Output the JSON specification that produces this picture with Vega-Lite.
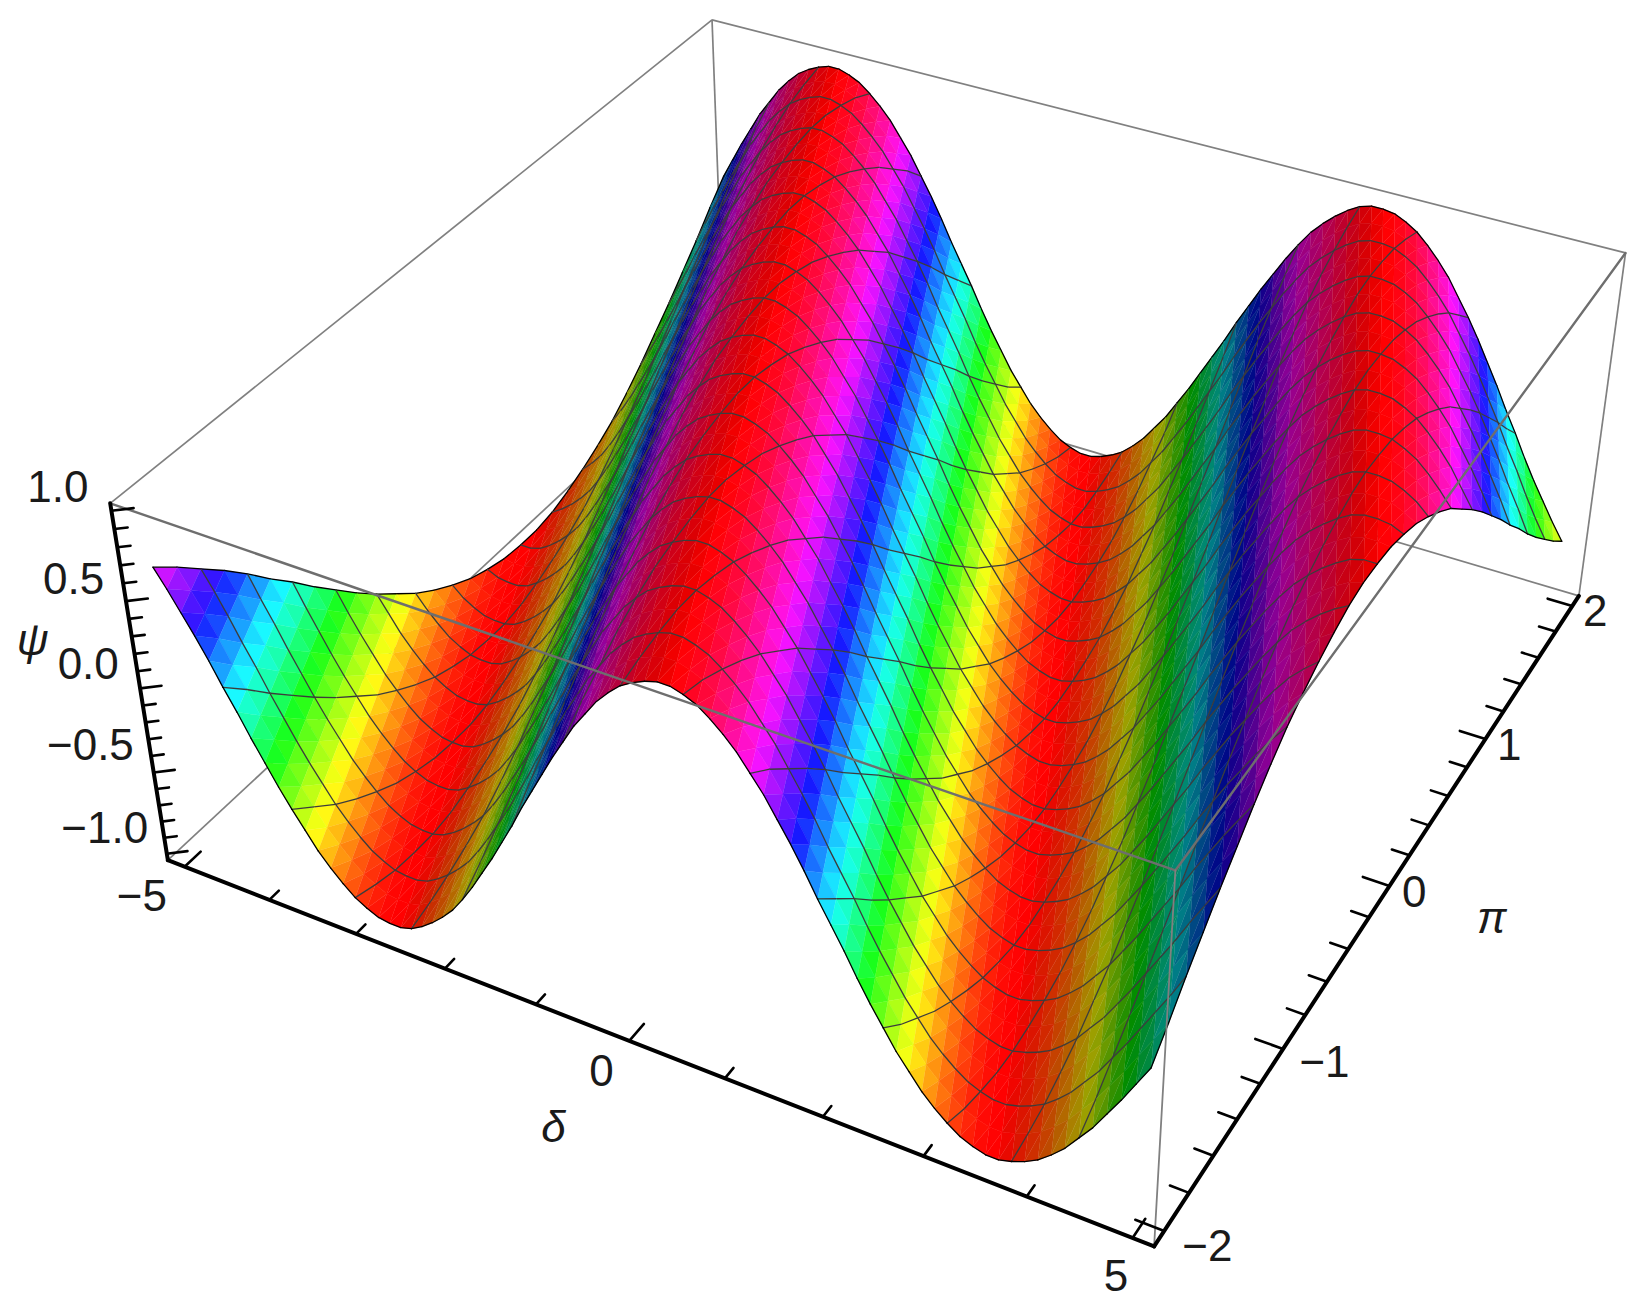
{"$schema":"https://vega.github.io/schema/vega-lite/v6.json","width":1642,"height":1300,"padding":0,"autosize":{"type":"none"},"background":"white","config":{"view":{"stroke":null}},"resolve":{"scale":{"strokeWidth":"independent","stroke":"independent"}},"encoding":{"x":{"field":"sx","type":"quantitative","scale":{"domain":[0,1565],"nice":false,"zero":false},"axis":null},"y":{"field":"sy","type":"quantitative","scale":{"domain":[1239.3,0],"nice":false,"zero":false},"axis":null}},"layer":[
{"data":{"name":"box","values":[
{"k":"bk","d":-5.2,"p":-2.08,"z":1.04,"d2":-5.2,"p2":2.08,"z2":1.04},
{"k":"bk","d":-5.2,"p":2.08,"z":1.04,"d2":5.2,"p2":2.08,"z2":1.04},
{"k":"bk","d":5.2,"p":2.08,"z":1.04,"d2":5.2,"p2":2.08,"z2":-1.04},
{"k":"bk","d":-5.2,"p":2.08,"z":1.04,"d2":-5.2,"p2":2.08,"z2":-1.04},
{"k":"bk","d":-5.2,"p":-2.08,"z":-1.04,"d2":-5.2,"p2":2.08,"z2":-1.04},
{"k":"bk","d":-5.2,"p":2.08,"z":-1.04,"d2":5.2,"p2":2.08,"z2":-1.04}]},
"transform":[{"calculate":"(datum.d+5.2)/10.4","as":"u"},{"calculate":"(datum.p+2.08)/4.16","as":"v"},{"calculate":"(datum.z+1.04)/2.08","as":"w"},{"calculate":"1-0.1209*datum.u+0.2137*datum.v-0.0717*datum.w","as":"den"},{"calculate":"(160+807*datum.u+677.5*datum.v-62.5*datum.w)/datum.den","as":"sx"},{"calculate":"(820+224.6*datum.u-423.8*datum.v-374.6*datum.w)/datum.den","as":"sy"},{"calculate":"(datum.d2+5.2)/10.4","as":"u2"},{"calculate":"(datum.p2+2.08)/4.16","as":"v2"},{"calculate":"(datum.z2+1.04)/2.08","as":"w2"},{"calculate":"1-0.1209*datum.u2+0.2137*datum.v2-0.0717*datum.w2","as":"den2"},{"calculate":"(160+807*datum.u2+677.5*datum.v2-62.5*datum.w2)/datum.den2","as":"sx2"},{"calculate":"(820+224.6*datum.u2-423.8*datum.v2-374.6*datum.w2)/datum.den2","as":"sy2"}],
"mark":{"type":"rule","stroke":"#808080","strokeWidth":1.7},"encoding":{"x2":{"field":"sx2"},"y2":{"field":"sy2"}}},
{"data":{"name":"surface","values":[
{"j":32,"p":2,"z":[14,26,38,49,60,69,78,85,91,95,98,100,100,98,95,90,84,77,68,59,48,37,25,12,0,-12,-25,-37,-48,-59,-68,-77,-84,-90,-95,-98,-100,-100,-98,-95,-91,-85,-78,-69,-60,-49,-38,-26,-14,-2,11,23,35,46,57,67,76,83,89,94,98,100,100,99,96,92,86,79,71,61,51,40,28,16,3,-9,-22,-34,-45,-56,-66]},
{"j":31,"p":1.875,"z":[2,14,26,38,49,60,69,78,85,91,95,98,100,100,98,95,90,84,77,68,59,48,37,25,12,0,-12,-25,-37,-48,-59,-68,-77,-84,-90,-95,-98,-100,-100,-98,-95,-91,-85,-78,-69,-60,-49,-38,-26,-14,-2,11,23,35,46,57,67,76,83,89,94,98,100,100,99,96,92,86,79,71,61,51,40,28,16,3,-9,-22,-34,-45,-56]},
{"j":30,"p":1.75,"z":[-11,2,14,26,38,49,60,69,78,85,91,95,98,100,100,98,95,90,84,77,68,59,48,37,25,12,0,-12,-25,-37,-48,-59,-68,-77,-84,-90,-95,-98,-100,-100,-98,-95,-91,-85,-78,-69,-60,-49,-38,-26,-14,-2,11,23,35,46,57,67,76,83,89,94,98,100,100,99,96,92,86,79,71,61,51,40,28,16,3,-9,-22,-34,-45]},
{"j":29,"p":1.625,"z":[-23,-11,2,14,26,38,49,60,69,78,85,91,95,98,100,100,98,95,90,84,77,68,59,48,37,25,12,0,-12,-25,-37,-48,-59,-68,-77,-84,-90,-95,-98,-100,-100,-98,-95,-91,-85,-78,-69,-60,-49,-38,-26,-14,-2,11,23,35,46,57,67,76,83,89,94,98,100,100,99,96,92,86,79,71,61,51,40,28,16,3,-9,-22,-34]},
{"j":28,"p":1.5,"z":[-35,-23,-11,2,14,26,38,49,60,69,78,85,91,95,98,100,100,98,95,90,84,77,68,59,48,37,25,12,0,-12,-25,-37,-48,-59,-68,-77,-84,-90,-95,-98,-100,-100,-98,-95,-91,-85,-78,-69,-60,-49,-38,-26,-14,-2,11,23,35,46,57,67,76,83,89,94,98,100,100,99,96,92,86,79,71,61,51,40,28,16,3,-9,-22]},
{"j":27,"p":1.375,"z":[-46,-35,-23,-11,2,14,26,38,49,60,69,78,85,91,95,98,100,100,98,95,90,84,77,68,59,48,37,25,12,0,-12,-25,-37,-48,-59,-68,-77,-84,-90,-95,-98,-100,-100,-98,-95,-91,-85,-78,-69,-60,-49,-38,-26,-14,-2,11,23,35,46,57,67,76,83,89,94,98,100,100,99,96,92,86,79,71,61,51,40,28,16,3,-9]},
{"j":26,"p":1.25,"z":[-57,-46,-35,-23,-11,2,14,26,38,49,60,69,78,85,91,95,98,100,100,98,95,90,84,77,68,59,48,37,25,12,0,-12,-25,-37,-48,-59,-68,-77,-84,-90,-95,-98,-100,-100,-98,-95,-91,-85,-78,-69,-60,-49,-38,-26,-14,-2,11,23,35,46,57,67,76,83,89,94,98,100,100,99,96,92,86,79,71,61,51,40,28,16,3]},
{"j":25,"p":1.125,"z":[-67,-57,-46,-35,-23,-11,2,14,26,38,49,60,69,78,85,91,95,98,100,100,98,95,90,84,77,68,59,48,37,25,12,0,-12,-25,-37,-48,-59,-68,-77,-84,-90,-95,-98,-100,-100,-98,-95,-91,-85,-78,-69,-60,-49,-38,-26,-14,-2,11,23,35,46,57,67,76,83,89,94,98,100,100,99,96,92,86,79,71,61,51,40,28,16]},
{"j":24,"p":1,"z":[-76,-67,-57,-46,-35,-23,-11,2,14,26,38,49,60,69,78,85,91,95,98,100,100,98,95,90,84,77,68,59,48,37,25,12,0,-12,-25,-37,-48,-59,-68,-77,-84,-90,-95,-98,-100,-100,-98,-95,-91,-85,-78,-69,-60,-49,-38,-26,-14,-2,11,23,35,46,57,67,76,83,89,94,98,100,100,99,96,92,86,79,71,61,51,40,28]},
{"j":23,"p":0.875,"z":[-83,-76,-67,-57,-46,-35,-23,-11,2,14,26,38,49,60,69,78,85,91,95,98,100,100,98,95,90,84,77,68,59,48,37,25,12,0,-12,-25,-37,-48,-59,-68,-77,-84,-90,-95,-98,-100,-100,-98,-95,-91,-85,-78,-69,-60,-49,-38,-26,-14,-2,11,23,35,46,57,67,76,83,89,94,98,100,100,99,96,92,86,79,71,61,51,40]},
{"j":22,"p":0.75,"z":[-89,-83,-76,-67,-57,-46,-35,-23,-11,2,14,26,38,49,60,69,78,85,91,95,98,100,100,98,95,90,84,77,68,59,48,37,25,12,0,-12,-25,-37,-48,-59,-68,-77,-84,-90,-95,-98,-100,-100,-98,-95,-91,-85,-78,-69,-60,-49,-38,-26,-14,-2,11,23,35,46,57,67,76,83,89,94,98,100,100,99,96,92,86,79,71,61,51]},
{"j":21,"p":0.625,"z":[-94,-89,-83,-76,-67,-57,-46,-35,-23,-11,2,14,26,38,49,60,69,78,85,91,95,98,100,100,98,95,90,84,77,68,59,48,37,25,12,0,-12,-25,-37,-48,-59,-68,-77,-84,-90,-95,-98,-100,-100,-98,-95,-91,-85,-78,-69,-60,-49,-38,-26,-14,-2,11,23,35,46,57,67,76,83,89,94,98,100,100,99,96,92,86,79,71,61]},
{"j":20,"p":0.5,"z":[-98,-94,-89,-83,-76,-67,-57,-46,-35,-23,-11,2,14,26,38,49,60,69,78,85,91,95,98,100,100,98,95,90,84,77,68,59,48,37,25,12,0,-12,-25,-37,-48,-59,-68,-77,-84,-90,-95,-98,-100,-100,-98,-95,-91,-85,-78,-69,-60,-49,-38,-26,-14,-2,11,23,35,46,57,67,76,83,89,94,98,100,100,99,96,92,86,79,71]},
{"j":19,"p":0.375,"z":[-100,-98,-94,-89,-83,-76,-67,-57,-46,-35,-23,-11,2,14,26,38,49,60,69,78,85,91,95,98,100,100,98,95,90,84,77,68,59,48,37,25,12,0,-12,-25,-37,-48,-59,-68,-77,-84,-90,-95,-98,-100,-100,-98,-95,-91,-85,-78,-69,-60,-49,-38,-26,-14,-2,11,23,35,46,57,67,76,83,89,94,98,100,100,99,96,92,86,79]},
{"j":18,"p":0.25,"z":[-100,-100,-98,-94,-89,-83,-76,-67,-57,-46,-35,-23,-11,2,14,26,38,49,60,69,78,85,91,95,98,100,100,98,95,90,84,77,68,59,48,37,25,12,0,-12,-25,-37,-48,-59,-68,-77,-84,-90,-95,-98,-100,-100,-98,-95,-91,-85,-78,-69,-60,-49,-38,-26,-14,-2,11,23,35,46,57,67,76,83,89,94,98,100,100,99,96,92,86]},
{"j":17,"p":0.125,"z":[-99,-100,-100,-98,-94,-89,-83,-76,-67,-57,-46,-35,-23,-11,2,14,26,38,49,60,69,78,85,91,95,98,100,100,98,95,90,84,77,68,59,48,37,25,12,0,-12,-25,-37,-48,-59,-68,-77,-84,-90,-95,-98,-100,-100,-98,-95,-91,-85,-78,-69,-60,-49,-38,-26,-14,-2,11,23,35,46,57,67,76,83,89,94,98,100,100,99,96,92]},
{"j":16,"p":0,"z":[-96,-99,-100,-100,-98,-94,-89,-83,-76,-67,-57,-46,-35,-23,-11,2,14,26,38,49,60,69,78,85,91,95,98,100,100,98,95,90,84,77,68,59,48,37,25,12,0,-12,-25,-37,-48,-59,-68,-77,-84,-90,-95,-98,-100,-100,-98,-95,-91,-85,-78,-69,-60,-49,-38,-26,-14,-2,11,23,35,46,57,67,76,83,89,94,98,100,100,99,96]},
{"j":15,"p":-0.125,"z":[-92,-96,-99,-100,-100,-98,-94,-89,-83,-76,-67,-57,-46,-35,-23,-11,2,14,26,38,49,60,69,78,85,91,95,98,100,100,98,95,90,84,77,68,59,48,37,25,12,0,-12,-25,-37,-48,-59,-68,-77,-84,-90,-95,-98,-100,-100,-98,-95,-91,-85,-78,-69,-60,-49,-38,-26,-14,-2,11,23,35,46,57,67,76,83,89,94,98,100,100,99]},
{"j":14,"p":-0.25,"z":[-86,-92,-96,-99,-100,-100,-98,-94,-89,-83,-76,-67,-57,-46,-35,-23,-11,2,14,26,38,49,60,69,78,85,91,95,98,100,100,98,95,90,84,77,68,59,48,37,25,12,0,-12,-25,-37,-48,-59,-68,-77,-84,-90,-95,-98,-100,-100,-98,-95,-91,-85,-78,-69,-60,-49,-38,-26,-14,-2,11,23,35,46,57,67,76,83,89,94,98,100,100]},
{"j":13,"p":-0.375,"z":[-79,-86,-92,-96,-99,-100,-100,-98,-94,-89,-83,-76,-67,-57,-46,-35,-23,-11,2,14,26,38,49,60,69,78,85,91,95,98,100,100,98,95,90,84,77,68,59,48,37,25,12,0,-12,-25,-37,-48,-59,-68,-77,-84,-90,-95,-98,-100,-100,-98,-95,-91,-85,-78,-69,-60,-49,-38,-26,-14,-2,11,23,35,46,57,67,76,83,89,94,98,100]},
{"j":12,"p":-0.5,"z":[-71,-79,-86,-92,-96,-99,-100,-100,-98,-94,-89,-83,-76,-67,-57,-46,-35,-23,-11,2,14,26,38,49,60,69,78,85,91,95,98,100,100,98,95,90,84,77,68,59,48,37,25,12,0,-12,-25,-37,-48,-59,-68,-77,-84,-90,-95,-98,-100,-100,-98,-95,-91,-85,-78,-69,-60,-49,-38,-26,-14,-2,11,23,35,46,57,67,76,83,89,94,98]},
{"j":11,"p":-0.625,"z":[-61,-71,-79,-86,-92,-96,-99,-100,-100,-98,-94,-89,-83,-76,-67,-57,-46,-35,-23,-11,2,14,26,38,49,60,69,78,85,91,95,98,100,100,98,95,90,84,77,68,59,48,37,25,12,0,-12,-25,-37,-48,-59,-68,-77,-84,-90,-95,-98,-100,-100,-98,-95,-91,-85,-78,-69,-60,-49,-38,-26,-14,-2,11,23,35,46,57,67,76,83,89,94]},
{"j":10,"p":-0.75,"z":[-51,-61,-71,-79,-86,-92,-96,-99,-100,-100,-98,-94,-89,-83,-76,-67,-57,-46,-35,-23,-11,2,14,26,38,49,60,69,78,85,91,95,98,100,100,98,95,90,84,77,68,59,48,37,25,12,0,-12,-25,-37,-48,-59,-68,-77,-84,-90,-95,-98,-100,-100,-98,-95,-91,-85,-78,-69,-60,-49,-38,-26,-14,-2,11,23,35,46,57,67,76,83,89]},
{"j":9,"p":-0.875,"z":[-40,-51,-61,-71,-79,-86,-92,-96,-99,-100,-100,-98,-94,-89,-83,-76,-67,-57,-46,-35,-23,-11,2,14,26,38,49,60,69,78,85,91,95,98,100,100,98,95,90,84,77,68,59,48,37,25,12,0,-12,-25,-37,-48,-59,-68,-77,-84,-90,-95,-98,-100,-100,-98,-95,-91,-85,-78,-69,-60,-49,-38,-26,-14,-2,11,23,35,46,57,67,76,83]},
{"j":8,"p":-1,"z":[-28,-40,-51,-61,-71,-79,-86,-92,-96,-99,-100,-100,-98,-94,-89,-83,-76,-67,-57,-46,-35,-23,-11,2,14,26,38,49,60,69,78,85,91,95,98,100,100,98,95,90,84,77,68,59,48,37,25,12,0,-12,-25,-37,-48,-59,-68,-77,-84,-90,-95,-98,-100,-100,-98,-95,-91,-85,-78,-69,-60,-49,-38,-26,-14,-2,11,23,35,46,57,67,76]},
{"j":7,"p":-1.125,"z":[-16,-28,-40,-51,-61,-71,-79,-86,-92,-96,-99,-100,-100,-98,-94,-89,-83,-76,-67,-57,-46,-35,-23,-11,2,14,26,38,49,60,69,78,85,91,95,98,100,100,98,95,90,84,77,68,59,48,37,25,12,0,-12,-25,-37,-48,-59,-68,-77,-84,-90,-95,-98,-100,-100,-98,-95,-91,-85,-78,-69,-60,-49,-38,-26,-14,-2,11,23,35,46,57,67]},
{"j":6,"p":-1.25,"z":[-3,-16,-28,-40,-51,-61,-71,-79,-86,-92,-96,-99,-100,-100,-98,-94,-89,-83,-76,-67,-57,-46,-35,-23,-11,2,14,26,38,49,60,69,78,85,91,95,98,100,100,98,95,90,84,77,68,59,48,37,25,12,0,-12,-25,-37,-48,-59,-68,-77,-84,-90,-95,-98,-100,-100,-98,-95,-91,-85,-78,-69,-60,-49,-38,-26,-14,-2,11,23,35,46,57]},
{"j":5,"p":-1.375,"z":[9,-3,-16,-28,-40,-51,-61,-71,-79,-86,-92,-96,-99,-100,-100,-98,-94,-89,-83,-76,-67,-57,-46,-35,-23,-11,2,14,26,38,49,60,69,78,85,91,95,98,100,100,98,95,90,84,77,68,59,48,37,25,12,0,-12,-25,-37,-48,-59,-68,-77,-84,-90,-95,-98,-100,-100,-98,-95,-91,-85,-78,-69,-60,-49,-38,-26,-14,-2,11,23,35,46]},
{"j":4,"p":-1.5,"z":[22,9,-3,-16,-28,-40,-51,-61,-71,-79,-86,-92,-96,-99,-100,-100,-98,-94,-89,-83,-76,-67,-57,-46,-35,-23,-11,2,14,26,38,49,60,69,78,85,91,95,98,100,100,98,95,90,84,77,68,59,48,37,25,12,0,-12,-25,-37,-48,-59,-68,-77,-84,-90,-95,-98,-100,-100,-98,-95,-91,-85,-78,-69,-60,-49,-38,-26,-14,-2,11,23,35]},
{"j":3,"p":-1.625,"z":[34,22,9,-3,-16,-28,-40,-51,-61,-71,-79,-86,-92,-96,-99,-100,-100,-98,-94,-89,-83,-76,-67,-57,-46,-35,-23,-11,2,14,26,38,49,60,69,78,85,91,95,98,100,100,98,95,90,84,77,68,59,48,37,25,12,0,-12,-25,-37,-48,-59,-68,-77,-84,-90,-95,-98,-100,-100,-98,-95,-91,-85,-78,-69,-60,-49,-38,-26,-14,-2,11,23]},
{"j":2,"p":-1.75,"z":[45,34,22,9,-3,-16,-28,-40,-51,-61,-71,-79,-86,-92,-96,-99,-100,-100,-98,-94,-89,-83,-76,-67,-57,-46,-35,-23,-11,2,14,26,38,49,60,69,78,85,91,95,98,100,100,98,95,90,84,77,68,59,48,37,25,12,0,-12,-25,-37,-48,-59,-68,-77,-84,-90,-95,-98,-100,-100,-98,-95,-91,-85,-78,-69,-60,-49,-38,-26,-14,-2,11]},
{"j":1,"p":-1.875,"z":[56,45,34,22,9,-3,-16,-28,-40,-51,-61,-71,-79,-86,-92,-96,-99,-100,-100,-98,-94,-89,-83,-76,-67,-57,-46,-35,-23,-11,2,14,26,38,49,60,69,78,85,91,95,98,100,100,98,95,90,84,77,68,59,48,37,25,12,0,-12,-25,-37,-48,-59,-68,-77,-84,-90,-95,-98,-100,-100,-98,-95,-91,-85,-78,-69,-60,-49,-38,-26,-14,-2]},
{"j":0,"p":-2,"z":[66,56,45,34,22,9,-3,-16,-28,-40,-51,-61,-71,-79,-86,-92,-96,-99,-100,-100,-98,-94,-89,-83,-76,-67,-57,-46,-35,-23,-11,2,14,26,38,49,60,69,78,85,91,95,98,100,100,98,95,90,84,77,68,59,48,37,25,12,0,-12,-25,-37,-48,-59,-68,-77,-84,-90,-95,-98,-100,-100,-98,-95,-91,-85,-78,-69,-60,-49,-38,-26,-14]}]},
"transform":[{"flatten":["z"]},{"window":[{"op":"row_number","as":"n"},{"op":"lag","field":"z","as":"zp"}],"groupby":["j"]},
{"calculate":"datum.n-1","as":"I"},{"calculate":"-5+datum.I*0.125","as":"d"},{"calculate":"datum.z/100","as":"psi"},{"calculate":"isValid(datum.zp)?(datum.z-datum.zp)/12.5:null","as":"sl"},
{"calculate":"(datum.d+5.2)/10.4","as":"u"},{"calculate":"(datum.p+2.08)/4.16","as":"v"},{"calculate":"(datum.psi+1.04)/2.08","as":"w"},{"calculate":"1-0.1209*datum.u+0.2137*datum.v-0.0717*datum.w","as":"den"},{"calculate":"(160+807*datum.u+677.5*datum.v-62.5*datum.w)/datum.den","as":"sx"},{"calculate":"(820+224.6*datum.u-423.8*datum.v-374.6*datum.w)/datum.den","as":"sy"},
{"calculate":"[0,1,2,3,4,5,6,7,8,9]","as":"k"},{"flatten":["k"]},
{"calculate":"(datum.k==1||datum.k==3||datum.k==4||datum.k==9)?datum.I-1:datum.I","as":"ci"},
{"calculate":"(datum.k==2||datum.k==4||datum.k==5||datum.k==7)?datum.j-1:datum.j","as":"cj"},
{"calculate":"[0,1,2,0,1,2,0,1,0,1][datum.k]","as":"ord"},
{"calculate":"['a','a','a','b','b','b','v','v','h','h'][datum.k]","as":"ty"},
{"filter":"((datum.ty=='a'||datum.ty=='b')&&datum.ci>=0&&datum.ci<80&&datum.cj>=0&&datum.cj<32)||(datum.ty=='v'&&datum.I%5==0&&datum.cj>=0&&datum.cj<32)||(datum.ty=='h'&&datum.j%2==0&&datum.ci>=0&&datum.ci<80)"},
{"calculate":"datum.ty+'_'+datum.ci+'_'+datum.cj","as":"key"},
{"joinaggregate":[{"op":"mean","field":"psi","as":"mz"},{"op":"mean","field":"sl","as":"ms"}],"groupby":["key"]},
{"calculate":"datum.ms>0?50-24*pow(datum.ms,0.75):50-5*datum.ms","as":"L"},
{"calculate":"'hsl('+(datum.mz+1)*180+',100%,'+datum.L+'%)'","as":"col"},
{"calculate":"(datum.ty=='a'||datum.ty=='b')?datum.col:'transparent'","as":"fc"},
{"calculate":"(datum.ty=='a'||datum.ty=='b')?datum.col:(((datum.ty=='v'&&(datum.I==0||datum.I==80))||(datum.ty=='h'&&(datum.j==0||datum.j==32)))?'#000000':'#3c3c3c')","as":"sc"}],
"mark":{"type":"line","strokeJoin":"round","strokeCap":"round","clip":false},
"encoding":{"detail":{"field":"key"},"order":{"field":"ord","type":"quantitative"},"fill":{"field":"fc","type":"nominal","scale":null},"stroke":{"field":"sc","type":"nominal","scale":null},"strokeWidth":{"field":"ty","type":"nominal","scale":{"type":"ordinal","domain":["a","b","v","h"],"range":[0.5,0.5,1.3,1.3]},"legend":null}}},
{"data":{"name":"frame","values":[
{"k":"fr","d":-5.2,"p":-2.08,"z":1.04,"d2":5.2,"p2":-2.08,"z2":1.04},
{"k":"fr","d":5.2,"p":-2.08,"z":1.04,"d2":5.2,"p2":2.08,"z2":1.04},
{"k":"fb","d":5.2,"p":-2.08,"z":1.04,"d2":5.2,"p2":-2.08,"z2":-1.04},
{"k":"ax","d":-5.2,"p":-2.08,"z":1.04,"d2":-5.2,"p2":-2.08,"z2":-1.04},
{"k":"ax","d":-5.2,"p":-2.08,"z":-1.04,"d2":5.2,"p2":-2.08,"z2":-1.04},
{"k":"ax","d":5.2,"p":-2.08,"z":-1.04,"d2":5.2,"p2":2.08,"z2":-1.04},
{"k":"ti","d":-5,"p":-2.08,"z":-1.04,"d2":-5,"p2":-1.98,"z2":-1.04},
{"k":"ti","d":-4,"p":-2.08,"z":-1.04,"d2":-4,"p2":-2.02,"z2":-1.04},
{"k":"ti","d":-3,"p":-2.08,"z":-1.04,"d2":-3,"p2":-2.02,"z2":-1.04},
{"k":"ti","d":-2,"p":-2.08,"z":-1.04,"d2":-2,"p2":-2.02,"z2":-1.04},
{"k":"ti","d":-1,"p":-2.08,"z":-1.04,"d2":-1,"p2":-2.02,"z2":-1.04},
{"k":"ti","d":0,"p":-2.08,"z":-1.04,"d2":0,"p2":-1.98,"z2":-1.04},
{"k":"ti","d":1,"p":-2.08,"z":-1.04,"d2":1,"p2":-2.02,"z2":-1.04},
{"k":"ti","d":2,"p":-2.08,"z":-1.04,"d2":2,"p2":-2.02,"z2":-1.04},
{"k":"ti","d":3,"p":-2.08,"z":-1.04,"d2":3,"p2":-2.02,"z2":-1.04},
{"k":"ti","d":4,"p":-2.08,"z":-1.04,"d2":4,"p2":-2.02,"z2":-1.04},
{"k":"ti","d":5,"p":-2.08,"z":-1.04,"d2":5,"p2":-1.98,"z2":-1.04},
{"k":"ti","d":5.2,"p":-2,"z":-1.04,"d2":4.93,"p2":-2,"z2":-1.04},
{"k":"ti","d":5.2,"p":-1.8,"z":-1.04,"d2":5.02,"p2":-1.8,"z2":-1.04},
{"k":"ti","d":5.2,"p":-1.6,"z":-1.04,"d2":5.02,"p2":-1.6,"z2":-1.04},
{"k":"ti","d":5.2,"p":-1.4,"z":-1.04,"d2":5.02,"p2":-1.4,"z2":-1.04},
{"k":"ti","d":5.2,"p":-1.2,"z":-1.04,"d2":5.02,"p2":-1.2,"z2":-1.04},
{"k":"ti","d":5.2,"p":-1,"z":-1.04,"d2":4.93,"p2":-1,"z2":-1.04},
{"k":"ti","d":5.2,"p":-0.8,"z":-1.04,"d2":5.02,"p2":-0.8,"z2":-1.04},
{"k":"ti","d":5.2,"p":-0.6,"z":-1.04,"d2":5.02,"p2":-0.6,"z2":-1.04},
{"k":"ti","d":5.2,"p":-0.4,"z":-1.04,"d2":5.02,"p2":-0.4,"z2":-1.04},
{"k":"ti","d":5.2,"p":-0.2,"z":-1.04,"d2":5.02,"p2":-0.2,"z2":-1.04},
{"k":"ti","d":5.2,"p":0,"z":-1.04,"d2":4.93,"p2":0,"z2":-1.04},
{"k":"ti","d":5.2,"p":0.2,"z":-1.04,"d2":5.02,"p2":0.2,"z2":-1.04},
{"k":"ti","d":5.2,"p":0.4,"z":-1.04,"d2":5.02,"p2":0.4,"z2":-1.04},
{"k":"ti","d":5.2,"p":0.6,"z":-1.04,"d2":5.02,"p2":0.6,"z2":-1.04},
{"k":"ti","d":5.2,"p":0.8,"z":-1.04,"d2":5.02,"p2":0.8,"z2":-1.04},
{"k":"ti","d":5.2,"p":1,"z":-1.04,"d2":4.93,"p2":1,"z2":-1.04},
{"k":"ti","d":5.2,"p":1.2,"z":-1.04,"d2":5.02,"p2":1.2,"z2":-1.04},
{"k":"ti","d":5.2,"p":1.4,"z":-1.04,"d2":5.02,"p2":1.4,"z2":-1.04},
{"k":"ti","d":5.2,"p":1.6,"z":-1.04,"d2":5.02,"p2":1.6,"z2":-1.04},
{"k":"ti","d":5.2,"p":1.8,"z":-1.04,"d2":5.02,"p2":1.8,"z2":-1.04},
{"k":"ti","d":5.2,"p":2,"z":-1.04,"d2":4.93,"p2":2,"z2":-1.04},
{"k":"ti","d":-5.2,"p":-2.08,"z":-1,"d2":-5.05,"p2":-2.03,"z2":-1},
{"k":"ti","d":-5.2,"p":-2.08,"z":-0.9,"d2":-5.11,"p2":-2.05,"z2":-0.9},
{"k":"ti","d":-5.2,"p":-2.08,"z":-0.8,"d2":-5.11,"p2":-2.05,"z2":-0.8},
{"k":"ti","d":-5.2,"p":-2.08,"z":-0.7,"d2":-5.11,"p2":-2.05,"z2":-0.7},
{"k":"ti","d":-5.2,"p":-2.08,"z":-0.6,"d2":-5.11,"p2":-2.05,"z2":-0.6},
{"k":"ti","d":-5.2,"p":-2.08,"z":-0.5,"d2":-5.05,"p2":-2.03,"z2":-0.5},
{"k":"ti","d":-5.2,"p":-2.08,"z":-0.4,"d2":-5.11,"p2":-2.05,"z2":-0.4},
{"k":"ti","d":-5.2,"p":-2.08,"z":-0.3,"d2":-5.11,"p2":-2.05,"z2":-0.3},
{"k":"ti","d":-5.2,"p":-2.08,"z":-0.2,"d2":-5.11,"p2":-2.05,"z2":-0.2},
{"k":"ti","d":-5.2,"p":-2.08,"z":-0.1,"d2":-5.11,"p2":-2.05,"z2":-0.1},
{"k":"ti","d":-5.2,"p":-2.08,"z":0,"d2":-5.05,"p2":-2.03,"z2":0},
{"k":"ti","d":-5.2,"p":-2.08,"z":0.1,"d2":-5.11,"p2":-2.05,"z2":0.1},
{"k":"ti","d":-5.2,"p":-2.08,"z":0.2,"d2":-5.11,"p2":-2.05,"z2":0.2},
{"k":"ti","d":-5.2,"p":-2.08,"z":0.3,"d2":-5.11,"p2":-2.05,"z2":0.3},
{"k":"ti","d":-5.2,"p":-2.08,"z":0.4,"d2":-5.11,"p2":-2.05,"z2":0.4},
{"k":"ti","d":-5.2,"p":-2.08,"z":0.5,"d2":-5.05,"p2":-2.03,"z2":0.5},
{"k":"ti","d":-5.2,"p":-2.08,"z":0.6,"d2":-5.11,"p2":-2.05,"z2":0.6},
{"k":"ti","d":-5.2,"p":-2.08,"z":0.7,"d2":-5.11,"p2":-2.05,"z2":0.7},
{"k":"ti","d":-5.2,"p":-2.08,"z":0.8,"d2":-5.11,"p2":-2.05,"z2":0.8},
{"k":"ti","d":-5.2,"p":-2.08,"z":0.9,"d2":-5.11,"p2":-2.05,"z2":0.9},
{"k":"ti","d":-5.2,"p":-2.08,"z":1,"d2":-5.05,"p2":-2.03,"z2":1}]},
"transform":[{"calculate":"(datum.d+5.2)/10.4","as":"u"},{"calculate":"(datum.p+2.08)/4.16","as":"v"},{"calculate":"(datum.z+1.04)/2.08","as":"w"},{"calculate":"1-0.1209*datum.u+0.2137*datum.v-0.0717*datum.w","as":"den"},{"calculate":"(160+807*datum.u+677.5*datum.v-62.5*datum.w)/datum.den","as":"sx"},{"calculate":"(820+224.6*datum.u-423.8*datum.v-374.6*datum.w)/datum.den","as":"sy"},{"calculate":"(datum.d2+5.2)/10.4","as":"u2"},{"calculate":"(datum.p2+2.08)/4.16","as":"v2"},{"calculate":"(datum.z2+1.04)/2.08","as":"w2"},{"calculate":"1-0.1209*datum.u2+0.2137*datum.v2-0.0717*datum.w2","as":"den2"},{"calculate":"(160+807*datum.u2+677.5*datum.v2-62.5*datum.w2)/datum.den2","as":"sx2"},{"calculate":"(820+224.6*datum.u2-423.8*datum.v2-374.6*datum.w2)/datum.den2","as":"sy2"}],
"mark":{"type":"rule","strokeCap":"round"},"encoding":{"x2":{"field":"sx2"},"y2":{"field":"sy2"},"stroke":{"field":"k","type":"nominal","scale":{"domain":["fr","fb","ax","ti"],"range":["#6e6e6e","#808080","#000000","#000000"]},"legend":null},"strokeWidth":{"field":"k","type":"nominal","scale":{"type":"ordinal","domain":["fr","fb","ax","ti"],"range":[2.4,1.8,4,2.6]},"legend":null}}},
{"data":{"name":"labels","values":[
{"t":"−5","d":-5.08,"p":-2.3,"z":-1.04},{"t":"0","d":0,"p":-2.267,"z":-1.04},{"t":"5","d":5.07,"p":-2.267,"z":-1.04},
{"t":"−2","d":5.6,"p":-2,"z":-1.04},{"t":"−1","d":5.6,"p":-1,"z":-1.04},{"t":"0","d":5.45,"p":0,"z":-1.04},{"t":"1","d":5.45,"p":1,"z":-1.04},{"t":"2","d":5.45,"p":2,"z":-1.04},
{"t":"−1.0","d":-5.95,"p":-2.08,"z":-1},{"t":"−0.5","d":-5.95,"p":-2.08,"z":-0.49},{"t":"0.0","d":-5.8,"p":-2.08,"z":0.02},{"t":"0.5","d":-5.8,"p":-2.08,"z":0.51},{"t":"1.0","d":-5.8,"p":-2.08,"z":1.02}]},
"transform":[{"calculate":"(datum.d+5.2)/10.4","as":"u"},{"calculate":"(datum.p+2.08)/4.16","as":"v"},{"calculate":"(datum.z+1.04)/2.08","as":"w"},{"calculate":"1-0.1209*datum.u+0.2137*datum.v-0.0717*datum.w","as":"den"},{"calculate":"(160+807*datum.u+677.5*datum.v-62.5*datum.w)/datum.den","as":"sx"},{"calculate":"(820+224.6*datum.u-423.8*datum.v-374.6*datum.w)/datum.den","as":"sy"}],
"mark":{"type":"text","font":"Liberation Sans","fontSize":44,"fill":"#1a1a1a","align":"center","baseline":"middle"},"encoding":{"text":{"field":"t"}}},
{"data":{"name":"titles","values":[{"t":"δ","d":0,"p":-2.58,"z":-1.04},{"t":"π","d":6.22,"p":0,"z":-1.04},{"t":"ψ","d":-6.45,"p":-2.08,"z":0.04}]},
"transform":[{"calculate":"(datum.d+5.2)/10.4","as":"u"},{"calculate":"(datum.p+2.08)/4.16","as":"v"},{"calculate":"(datum.z+1.04)/2.08","as":"w"},{"calculate":"1-0.1209*datum.u+0.2137*datum.v-0.0717*datum.w","as":"den"},{"calculate":"(160+807*datum.u+677.5*datum.v-62.5*datum.w)/datum.den","as":"sx"},{"calculate":"(820+224.6*datum.u-423.8*datum.v-374.6*datum.w)/datum.den","as":"sy"}],
"mark":{"type":"text","font":"Liberation Sans","fontStyle":"italic","fontSize":44,"fill":"#1a1a1a","align":"center","baseline":"middle"},"encoding":{"text":{"field":"t"}}}
]}
